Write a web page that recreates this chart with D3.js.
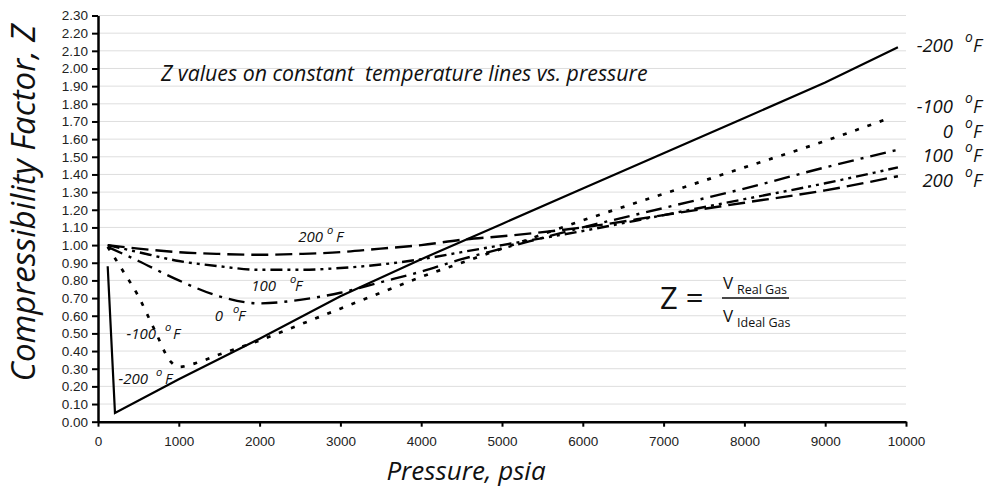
<!DOCTYPE html>
<html>
<head>
<meta charset="utf-8">
<style>
    body { margin: 0; background: #fff; }
    svg { display: block; }
    .y .tick text, .x .tick text {
        font-family: 'Liberation Sans', Arial, sans-serif;
        font-size: 13.5px;
        fill: #222;
    }
    .axis .domain { stroke: #000; stroke-width: 2.5px; }
    .axis .tick line { stroke: #000; stroke-width: 2px; }
    .grid line { stroke: #dedede; stroke-width: 1px; }
    .lbl {
        font-family: 'Open Sans', sans-serif;
        font-style: italic;
        fill: #111;
    }
    .formula { font-family: 'Open Sans', sans-serif; fill: #111; }
</style>
</head>
<body>
<svg width="994" height="487"></svg>

<script src="https://d3js.org/d3.v7.min.js"></script>
<script>
    // data: pressure (psia) and Z for each temperature line
    let pM200 = [120, 210, 1000, 2000, 3000, 4000, 5000, 6000, 7000, 8000, 9000, 9900]
    let zM200 = [0.88, 0.05, 0.24, 0.47, 0.71, 0.92, 1.12, 1.32, 1.52, 1.72, 1.92, 2.12]

    let pM100 = [120, 300, 500, 700, 900, 1000, 1200, 1500, 2000, 2500, 3000, 3500, 4000, 4500, 5000, 6000, 7000, 8000, 9000, 9800]
    let zM100 = [0.99, 0.86, 0.71, 0.52, 0.34, 0.31, 0.33, 0.38, 0.46, 0.55, 0.64, 0.73, 0.82, 0.90, 0.98, 1.14, 1.29, 1.44, 1.59, 1.72]

    let pHigh = [120, 500, 1000, 1500, 2000, 2500, 3000, 3500, 4000, 4500, 5000, 6000, 7000, 8000, 9000, 9900]
    let z0 = [0.99, 0.91, 0.80, 0.71, 0.67, 0.69, 0.73, 0.79, 0.85, 0.92, 0.98, 1.10, 1.21, 1.32, 1.44, 1.54]
    let z100 = [1.00, 0.96, 0.91, 0.88, 0.86, 0.86, 0.87, 0.89, 0.92, 0.96, 1.00, 1.08, 1.17, 1.26, 1.35, 1.44]
    let z200 = [1.00, 0.98, 0.96, 0.95, 0.945, 0.95, 0.96, 0.98, 1.00, 1.03, 1.05, 1.10, 1.17, 1.24, 1.31, 1.39]

    let xTicks = [0, 1000, 2000, 3000, 4000, 5000, 6000, 7000, 8000, 9000, 10000]
    let yTicks = [0, 0.1, 0.2, 0.3, 0.4, 0.5, 0.6, 0.7, 0.8, 0.9, 1.0, 1.1, 1.2,
        1.3, 1.4, 1.5, 1.6, 1.7, 1.8, 1.9, 2.0, 2.1, 2.2, 2.3]

    let series = [
        { key: "-200", p: pM200, z: zM200, dash: null, curve: d3.curveLinear, w: 2.2 },
        { key: "-100", p: pM100, z: zM100, dash: "4,9", curve: d3.curveMonotoneX, w: 2.7 },
        { key: "0", p: pHigh, z: z0, dash: "16,7,3,7", curve: d3.curveMonotoneX, w: 2.4 },
        { key: "100", p: pHigh, z: z100, dash: "12,5,3,5,3,5", curve: d3.curveMonotoneX, w: 2.4 },
        { key: "200", p: pHigh, z: z200, dash: "17,7", curve: d3.curveMonotoneX, w: 2.4 }
    ]

    let svg = d3.select("svg")

    let x = d3.scaleLinear()
        .domain([0, 10000])
        .range([98, 906])

    let y = d3.scaleLinear()
        .domain([0, 2.3])
        .range([421.7, 15.5])

    // gridlines
    svg.append("g")
        .attr("class", "grid")
        .selectAll("line")
        .data(yTicks.slice(1))
        .join("line")
        .attr("x1", x(0))
        .attr("x2", x(10000))
        .attr("y1", d => y(d))
        .attr("y2", d => y(d))

    // lines
    let line = d3.line()
        .x(d => x(d[0]))
        .y(d => y(d[1]))

    svg.append("g")
        .selectAll("path")
        .data(series)
        .join("path")
        .attr("fill", "none")
        .attr("stroke", "#000")
        .attr("stroke-width", d => d.w)
        .attr("stroke-dasharray", d => d.dash)
        .attr("d", d => line.curve(d.curve)(d.p.map((p, i) => [p, d.z[i]])))

    // axes
    svg.append("g")
        .attr("class", "x axis")
        .attr("transform", "translate(0," + y(0) + ")")
        .call(d3.axisBottom(x)
            .tickValues(xTicks)
            .tickSize(5)
            .tickSizeOuter(0)
            .tickPadding(10)
            .tickFormat(d3.format("d")))

    svg.append("g")
        .attr("class", "y axis")
        .attr("transform", "translate(" + x(0) + ",0)")
        .call(d3.axisLeft(y)
            .tickValues(yTicks)
            .tickSize(6)
            .tickSizeOuter(0)
            .tickPadding(4)
            .tickFormat(d3.format(".2f")))

    // axis titles
    svg.append("text")
        .attr("class", "lbl")
        .attr("transform", "translate(35,203) rotate(-90)")
        .attr("text-anchor", "middle")
        .style("font-size", "33px")
        .text("Compressibility Factor, Z")

    svg.append("text")
        .attr("class", "lbl")
        .attr("x", 466)
        .attr("y", 480)
        .attr("text-anchor", "middle")
        .style("font-size", "26px")
        .text("Pressure, psia")

    svg.append("text")
        .attr("class", "lbl")
        .attr("x", 161)
        .attr("y", 81)
        .style("font-size", "21.3px")
        .attr("xml:space", "preserve")
        .text("Z values on constant  temperature lines vs. pressure")

    // temperature labels: number, superscript o, F
    function tempLabel(num, xn, yb, xo, xf, size) {
        let g = svg.append("g").attr("class", "lbl")
        g.append("text")
            .attr("x", xn).attr("y", yb)
            .attr("text-anchor", "end")
            .style("font-size", size + "px")
            .text(num)
        g.append("text")
            .attr("x", xo).attr("y", yb - size * 0.55)
            .style("font-size", (size * 0.75) + "px")
            .text("o")
        g.append("text")
            .attr("x", xf).attr("y", yb)
            .style("font-size", size + "px")
            .text("F")
    }

    // right-hand labels
    tempLabel("-200", 953, 52, 965, 973, 18.5)
    tempLabel("-100", 953, 113, 965, 973, 18.5)
    tempLabel("0", 953, 138, 965, 973, 18.5)
    tempLabel("100", 953, 162, 965, 973, 18.5)
    tempLabel("200", 953, 187, 965, 973, 18.5)

    // labels inside the plot
    tempLabel("200", 323, 242, 327, 336, 15)
    tempLabel("100", 276, 291, 290, 295, 15)
    tempLabel("0", 223, 321, 233, 238, 15)
    tempLabel("-100", 156, 339, 165, 173, 15)
    tempLabel("-200", 148, 384, 156, 165, 15)

    // formula
    let f = svg.append("g").attr("class", "formula")
    f.append("text").attr("x", 660).attr("y", 309).style("font-size", "31px").text("Z =")
    f.append("line")
        .attr("x1", 722).attr("x2", 789)
        .attr("y1", 298).attr("y2", 298)
        .attr("stroke", "#111").attr("stroke-width", 1.3)
    f.append("text").attr("x", 723).attr("y", 289).style("font-size", "17px").text("V")
    f.append("text").attr("x", 737).attr("y", 294).style("font-size", "12.5px").text("Real Gas")
    f.append("text").attr("x", 723).attr("y", 322).style("font-size", "17px").text("V")
    f.append("text").attr("x", 737).attr("y", 327).style("font-size", "12.5px").text("Ideal Gas")
</script>
</body>
</html>
